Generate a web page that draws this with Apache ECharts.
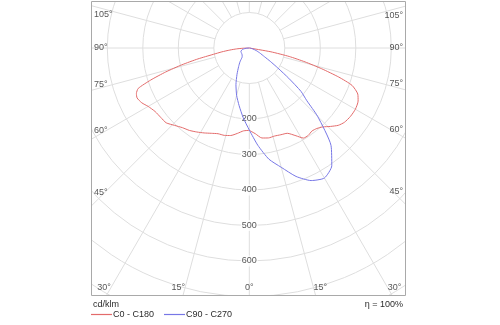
<!DOCTYPE html>
<html>
<head>
<meta charset="utf-8">
<script src="https://cdn.jsdelivr.net/npm/echarts@6/dist/echarts.min.js"></script>
<style>
  html, body { margin: 0; padding: 0; background: #fff; }
  #chart { width: 500px; height: 325px; }
</style>
</head>
<body>
<div id="chart"></div>
<script>
// Luminous intensity distribution in cd/klm, gamma in degrees (0 = straight down).
const gammaC0 = [0, 4, 8, 12, 16, 20, 24, 28, 31, 34, 37, 40, 43, 46, 49, 52, 56, 60, 64, 67, 70, 72, 74, 76, 78, 80, 85, 90];
const intensityC0 = [233, 242, 256, 259, 258, 260, 263, 280, 296, 297, 293, 296, 304, 318, 332, 340, 344, 345, 341, 332, 308, 265, 212, 162, 115, 62, 0, 0];

const gammaC180 = [0, 4, 8, 12, 16, 20, 24, 28, 32, 36, 40, 44, 48, 52, 56, 60, 63, 66, 68, 70, 72, 74, 76, 78, 80, 82, 84, 86, 88, 90];
const intensityC180 = [232, 234, 243, 252, 256, 257, 263, 271, 279, 287, 293, 303, 315, 317, 320, 329, 340, 346, 343, 333, 292, 245, 196, 148, 103, 78, 55, 36, 17, 0];

const gammaC90 = [0, 5, 10, 15, 20, 25, 30, 35, 40, 45, 47.5, 50, 52.5, 55, 57.5, 60, 65, 70, 75, 80, 85, 90];
const intensityC90 = [231, 275, 318, 348, 385, 412, 423, 405, 358, 272, 220, 190, 140, 98, 70, 50, 32, 20, 10, 4, 1, 0];

const gammaC270 = [0, 5, 10, 15, 20, 25, 30, 34, 38, 42, 50, 60, 66, 75, 80, 85, 90];
const intensityC270 = [231, 197, 165, 138, 110, 82, 60, 47, 33, 30, 27, 26, 26, 22, 17, 9, 0];

const ringLabels = [200, 300, 400, 500, 600];
const angleLabels = [0, 15, 30, 45, 60, 75, 90, 105];
const spokeAngles = [0, 15, 30, 45, 60, 75, 90, 105, 120, 135, 150, 165, 180, 195, 210, 225, 240, 255, 270, 285, 300, 315, 330, 345];

// Diagram frame and polar scale (pixels)
const FRAME = { left: 91, top: 1, right: 406, bottom: 296 };
const CENTER = [249.3, 48];
const PX_PER_UNIT = 0.355;
const R_MAX = 900;
const GRID_COLOR = '#dedede';
const TEXT_COLOR = '#2b2b2b';
const FONT = 'Liberation Sans';
const RED = '#e36b6b';
const BLUE = '#7777e6';

// Right half of a plane uses the gamma angle directly, left half mirrors it (360 - gamma).
function planeCurve(gLeft, vLeft, gRight, vRight) {
  const pts = [];
  for (let i = gLeft.length - 1; i >= 0; i--) pts.push([vLeft[i], 360 - gLeft[i]]);
  for (let i = 0; i < gRight.length; i++) pts.push([vRight[i], gRight[i]]);
  return pts;
}

const rad = d => d * Math.PI / 180;

// Angle labels sit where each spoke meets the inner margin of the frame.
function angleLabelData() {
  const out = [];
  angleLabels.forEach(g => {
    if (g >= 45) {
      const va = g < 90 ? 'bottom' : (g === 90 ? 'middle' : 'top');
      const dy = g < 90 ? 1 : (g === 90 ? 0 : 2);
      const dl = CENTER[0] - (FRAME.left + 10);
      const dr = (FRAME.right - 10) - CENTER[0];
      out.push({ value: [dl / Math.sin(rad(g)) / PX_PER_UNIT, 360 - g], name: g + '°',
        label: { align: 'left', verticalAlign: va, offset: [-7, dy] } });
      out.push({ value: [dr / Math.sin(rad(g)) / PX_PER_UNIT, g], name: g + '°',
        label: { align: 'right', verticalAlign: va, offset: [7, dy] } });
    } else {
      const dyPx = (FRAME.bottom - 8) - CENTER[1];
      const r = dyPx / Math.cos(rad(g)) / PX_PER_UNIT;
      if (g === 0) {
        out.push({ value: [r, 0], name: g + '°', label: { align: 'center', verticalAlign: 'middle' } });
      } else {
        out.push({ value: [r, 360 - g], name: g + '°', label: { align: 'right', verticalAlign: 'middle' } });
        out.push({ value: [r, g], name: g + '°', label: { align: 'left', verticalAlign: 'middle' } });
      }
    }
  });
  return out;
}

const spokeSeries = spokeAngles.map(a => ({
  type: 'line', coordinateSystem: 'polar', silent: true, symbol: 'none', z: 1,
  lineStyle: { color: GRID_COLOR, width: 1 },
  data: [[100, a], [R_MAX, a]]
}));

const chart = echarts.init(document.getElementById('chart'), null, { renderer: 'canvas' });

const maskStyle = { fill: '#fff', stroke: null };

chart.setOption({
  animation: false,
  textStyle: { fontFamily: FONT },
  polar: { center: CENTER, radius: R_MAX * PX_PER_UNIT },
  angleAxis: {
    type: 'value', min: 0, max: 360, startAngle: 270, clockwise: false,
    axisLine: { show: false }, axisTick: { show: false }, axisLabel: { show: false },
    splitLine: { show: false }
  },
  radiusAxis: {
    type: 'value', min: 0, max: R_MAX, interval: 100,
    axisLine: { show: false }, axisTick: { show: false }, axisLabel: { show: false },
    splitLine: { show: true, lineStyle: { color: GRID_COLOR, width: 1 } }
  },
  legend: {
    left: 91, top: 310, padding: 0, z: 120, icon: 'rect', itemWidth: 21, itemHeight: 1.2, itemGap: 10,
    itemStyle: { borderWidth: 0 },
    textStyle: { fontFamily: FONT, fontSize: 9, color: TEXT_COLOR, padding: [0, 0, 0, -4] },
    data: [
      { name: 'C0 - C180', itemStyle: { color: RED, borderWidth: 0 } },
      { name: 'C90 - C270', itemStyle: { color: BLUE, borderWidth: 0 } }
    ]
  },
  graphic: [
    { type: 'rect', z: 100, silent: true, shape: { x: 0, y: 0, width: FRAME.left, height: 325 }, style: maskStyle },
    { type: 'rect', z: 100, silent: true, shape: { x: FRAME.right, y: 0, width: 500 - FRAME.right, height: 325 }, style: maskStyle },
    { type: 'rect', z: 100, silent: true, shape: { x: 0, y: FRAME.bottom, width: 500, height: 325 - FRAME.bottom }, style: maskStyle },
    { type: 'rect', z: 100, silent: true, shape: { x: 0, y: 0, width: 500, height: FRAME.top }, style: maskStyle },
    { type: 'rect', z: 101, silent: true,
      shape: { x: FRAME.left + 0.5, y: FRAME.top + 0.5, width: FRAME.right - FRAME.left - 1, height: FRAME.bottom - FRAME.top - 1 },
      style: { fill: null, stroke: '#a9a9a9', lineWidth: 1 } },
    { type: 'text', z: 110, silent: true, left: 93, top: 300,
      style: { text: 'cd/klm', fill: TEXT_COLOR, font: '9px "Liberation Sans"' } },
    { type: 'text', z: 110, silent: true, right: 97, top: 300,
      style: { text: 'η = 100%', fill: TEXT_COLOR, font: '9px "Liberation Sans"' } }
  ],
  series: [
    ...spokeSeries,
    {
      name: 'C0 - C180', type: 'line', coordinateSystem: 'polar', symbol: 'none', z: 5,
      smooth: 0.2, color: RED, itemStyle: { color: RED }, lineStyle: { color: RED, width: 1 },
      data: planeCurve(gammaC180, intensityC180, gammaC0, intensityC0)
    },
    {
      name: 'C90 - C270', type: 'line', coordinateSystem: 'polar', symbol: 'none', z: 5,
      smooth: 0.2, color: BLUE, itemStyle: { color: BLUE }, lineStyle: { color: BLUE, width: 1 },
      data: planeCurve(gammaC270, intensityC270, gammaC90, intensityC90)
    },
    {
      type: 'scatter', coordinateSystem: 'polar', silent: true, symbolSize: 0, z: 4,
      data: ringLabels.map(v => [v, 0]),
      label: {
        show: true, position: 'inside', formatter: p => String(p.value[0]),
        color: TEXT_COLOR, fontSize: 9, fontFamily: FONT, backgroundColor: '#fff', padding: [1, 1]
      }
    },
    {
      type: 'scatter', coordinateSystem: 'polar', silent: true, symbolSize: 0, z: 4,
      data: angleLabelData(),
      label: { show: true, position: 'inside', formatter: p => p.name, color: TEXT_COLOR, fontSize: 9, fontFamily: FONT }
    }
  ]
});
</script>
</body>
</html>
